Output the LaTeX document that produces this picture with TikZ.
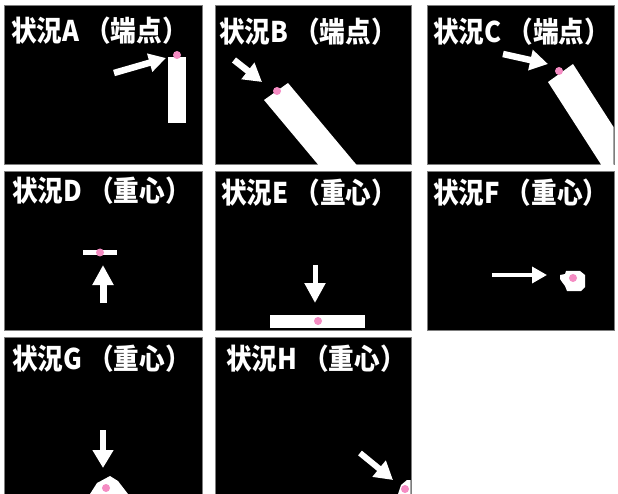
\documentclass[tikz,border=0pt]{standalone}
\usepackage{fontspec}
\newfontfamily\cjk[FakeStretch=0.9]{Noto Sans CJK JP}
\usetikzlibrary{arrows.meta}
\definecolor{pinkdot}{RGB}{245,140,195}
\definecolor{frame}{RGB}{125,125,125}
\tikzset{
 panel/.style={fill=black, draw=frame, line width=1pt},
 title/.style={anchor=base west, inner sep=0pt, text=white, font=\cjk\bfseries\fontsize{28.5}{28.5}\selectfont},
 blob/.style={fill=white, draw=none},
 dot/.style={circle, fill=pinkdot, inner sep=0pt, minimum size=8pt},
 blockarrow/.style n args={3}{draw=white, line width=#1, -{Triangle[length=#3,width=#2]}},
}
\begin{document}
\begin{tikzpicture}[x=1pt,y=-1pt]
\useasboundingbox[fill=white] (0,0) rectangle (618,494);
% ---------- Panel A
\path[panel] (4,6) rectangle (202,165);
\node[title] (tA) at (11,42) {状況A （端点）};
\fill[blob] (168,57) rectangle (186,123);
\node[dot] (dA) at (177,55) {};
\coordinate (aA1) at (114,73); \coordinate (aA2) at (166,58);
\draw[blockarrow={6.5pt}{18pt}{17pt}] (aA1) -- (aA2);
% ---------- Panel B
\path[panel] (215,6) rectangle (411,165);
\node[title] (tB) at (219,43) {状況B （端点）};
\begin{scope}
 \clip (215.5,6.5) rectangle (410.5,164.5);
 \fill[blob] (264,100) -- (288,83) -- (365,175) -- (341,192) -- cycle;
\end{scope}
\node[dot] (dB) at (277,91) {};
\coordinate (aB1) at (234,60); \coordinate (aB2) at (262,82);
\draw[blockarrow={6.5pt}{20pt}{18pt}] (aB1) -- (aB2);
% ---------- Panel C
\path[panel] (427,6) rectangle (614,165);
\node[title] (tC) at (433,43) {状況C （端点）};
\begin{scope}
 \clip (427.5,6.5) rectangle (613.5,164.5);
 \fill[blob] (548,82) -- (573,64) -- (654,190) -- (629,208) -- cycle;
\end{scope}
\node[dot] (dC) at (559,71) {};
\coordinate (aC1) at (503,54); \coordinate (aC2) at (548,64);
\draw[blockarrow={6.5pt}{20pt}{18pt}] (aC1) -- (aC2);
% ---------- Panel D
\path[panel] (4,172) rectangle (202,330);
\node[title] (tD) at (12,202) {状況D （重心）};
\fill[blob] (83,250) rectangle (117,255);
\node[dot] (dD) at (100,252.5) {};
\coordinate (aD1) at (103,303); \coordinate (aD2) at (103,265);
\draw[blockarrow={7pt}{20pt}{20pt}] (aD1) -- (aD2);
% ---------- Panel E
\path[panel] (215,172) rectangle (411,330);
\node[title] (tE) at (221,204) {状況E （重心）};
\fill[blob] (270,315) rectangle (365,328);
\node[dot] (dE) at (318,321) {};
\coordinate (aE1) at (315,265); \coordinate (aE2) at (315,303);
\draw[blockarrow={5pt}{20pt}{20pt}] (aE1) -- (aE2);
% ---------- Panel F
\path[panel] (427,172) rectangle (614,330);
\node[title] (tF) at (433,204) {状況F （重心）};
\fill[blob] (560,275) -- (565,274) -- (566,271) -- (580,271) -- (585,275)
  -- (585,287) -- (581,291) -- (567,291) -- (565,286) -- (562,282) -- (560,279) -- cycle;
\node[dot] (dF) at (573,278) {};
\coordinate (aF1) at (492,275); \coordinate (aF2) at (547,275);
\draw[blockarrow={3.5pt}{16pt}{15pt}] (aF1) -- (aF2);
% ---------- Panel G
\path[panel] (4,337) rectangle (202,494);
\node[title] (tG) at (12,369) {状況G （重心）};
\begin{scope}
 \clip (4.5,337.5) rectangle (201.5,494);
 \fill[blob] (90,494) -- (97,483) -- (110,476) -- (118,481) -- (128,494) -- cycle;
\end{scope}
\node[dot] (dG) at (106,488) {};
\coordinate (aG1) at (103,430); \coordinate (aG2) at (103,468);
\draw[blockarrow={6pt}{20pt}{18pt}] (aG1) -- (aG2);
% ---------- Panel H
\path[panel] (215,337) rectangle (411,494);
\node[title] (tH) at (226,369) {状況H （重心）};
\begin{scope}
 \clip (215.5,337.5) rectangle (410.5,494);
 \fill[blob] (398,494) -- (401,485) -- (407,480) -- (411,480) -- (411,494) -- cycle;
 \node[dot] (dH) at (405,489) {};
\end{scope}
\coordinate (aH1) at (360,453); \coordinate (aH2) at (393,480);
\draw[blockarrow={6pt}{20pt}{18pt}] (aH1) -- (aH2);
\end{tikzpicture}
\end{document}
